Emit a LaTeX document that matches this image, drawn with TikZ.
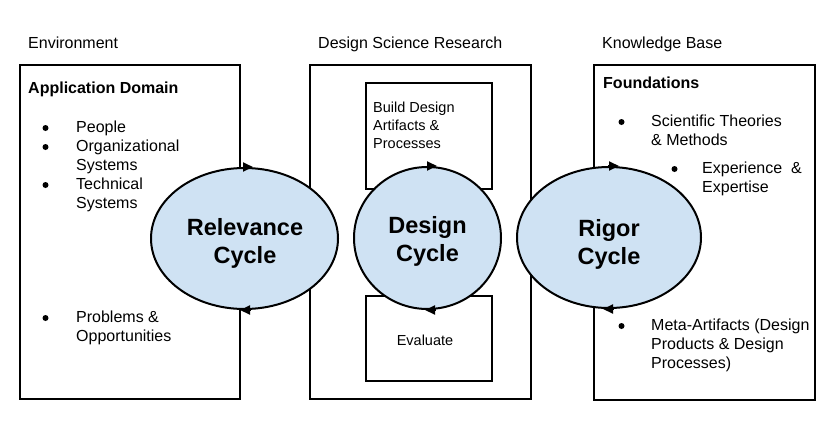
\documentclass[tikz,border=0pt]{standalone}
\usepackage{fontspec}
\setmainfont{Liberation Sans}
\usetikzlibrary{shapes.geometric,arrows.meta}
\definecolor{cycfill}{RGB}{207,226,243}
\newcommand{\mylines}[1]{\begin{tabular}[t]{@{}l@{}}#1\end{tabular}}
\newcommand{\mycenter}[1]{\begin{tabular}[t]{@{}c@{}}#1\end{tabular}}
\begin{document}
\begin{tikzpicture}[x=1pt,y=-1pt,
  box/.style={draw, line width=1.5pt, inner sep=0, anchor=north west},
  cyc/.style={ellipse, draw, line width=2pt, fill=cycfill, inner sep=0},
  cycarrow/.style={line width=2pt, -{Triangle[length=10pt,width=9pt]}},
  head/.style={font=\fontsize{16}{19}\selectfont, inner sep=0, anchor=base west},
  txt/.style={font=\fontsize{16}{19}\selectfont, inner sep=0, anchor=base west},
  bold/.style={font=\fontsize{16}{19}\selectfont\bfseries, inner sep=0, anchor=base west},
  small/.style={font=\fontsize{14.5}{18}\selectfont, inner sep=0, anchor=base west},
  bul/.style={circle, fill=black, inner sep=0, minimum size=6pt},
  big/.style={font=\fontsize{23.5}{28}\selectfont\bfseries, inner sep=0, anchor=base},
]
\useasboundingbox[fill=white] (0,0) rectangle (839,429);

% headers
\node[head] (henv) at (28,48) {Environment};
\node[head] (hdsr) at (318,48) {Design Science Research};
\node[head] (hkb) at (602,48) {Knowledge Base};

% boxes
\node[box, minimum width=220pt, minimum height=334pt] (env) at (19,64) {};
\node[box, minimum width=221pt, minimum height=334pt] (dsr) at (309,64) {};
\node[box, minimum width=221pt, minimum height=335pt] (kb) at (593,64) {};
\node[box, minimum width=126pt, minimum height=106pt] (build) at (365,82) {};
\node[box, minimum width=126pt, minimum height=85pt] (eval) at (365,295) {};

% left box text
\node[bold] (appdom) at (28,93) {Application Domain};
\node[bul] (b1) at (45.5,128) {};
\node[txt] (t1) at (76,132) {People};
\node[bul] (b2) at (45.5,147) {};
\node[txt] (t2) at (76,151) {\mylines{Organizational\\Systems}};
\node[bul] (b3) at (45.5,185) {};
\node[txt] (t3) at (76,189) {\mylines{Technical\\Systems}};
\node[bul] (b4) at (45.5,318) {};
\node[txt] (t4) at (76,322) {\mylines{Problems \&\\Opportunities}};

% middle box text
\node[small] (tbuild) at (373,112) {\mylines{Build Design\\Artifacts \&\\Processes}};
\node[small, anchor=base] (teval) at (425,345) {Evaluate};

% right box text
\node[bold] (found) at (603,88) {Foundations};
\node[bul] (b5) at (621.5,122) {};
\node[txt] (t5) at (651,126) {\mylines{Scientific Theories\\\& Methods}};
\node[bul] (b6) at (674.5,169) {};
\node[txt] (t6) at (702,173) {\mylines{Experience\ \ \&\\Expertise}};
\node[bul] (b7) at (621.5,326) {};
\node[txt] (t7) at (651,330) {\mylines{Meta-Artifacts (Design\\Products \& Design\\Processes)}};

% cycles
\node[cyc, minimum width=187pt, minimum height=141pt] (rel) at (244.5,238.5) {};
\node[cyc, minimum width=147pt, minimum height=142pt] (des) at (427.5,238) {};
\node[cyc, minimum width=184pt, minimum height=141pt] (rig) at (609,237.5) {};

\node[big] (reltxt) at (245,235) {\mycenter{Relevance\\Cycle}};
\node[big] (destxt) at (427.5,233) {\mycenter{Design\\Cycle}};
\node[big] (rigtxt) at (609,236) {\mycenter{Rigor\\Cycle}};

% arrowheads on the cycles
\draw[cycarrow] ([xshift=-2pt]rel.north) -- ([xshift=8.5pt]rel.north);
\draw[cycarrow] ([xshift=6pt]rel.south) -- ([xshift=-4.5pt]rel.south);
\draw[cycarrow] ([xshift=-1pt]des.north) -- ([xshift=9.5pt]des.north);
\draw[cycarrow] ([xshift=8pt]des.south) -- ([xshift=-2.5pt]des.south);
\draw[cycarrow] ([xshift=-1pt]rig.north) -- ([xshift=10pt]rig.north);
\draw[cycarrow] ([xshift=4.5pt]rig.south) -- ([xshift=-6pt]rig.south);
\end{tikzpicture}
\end{document}
